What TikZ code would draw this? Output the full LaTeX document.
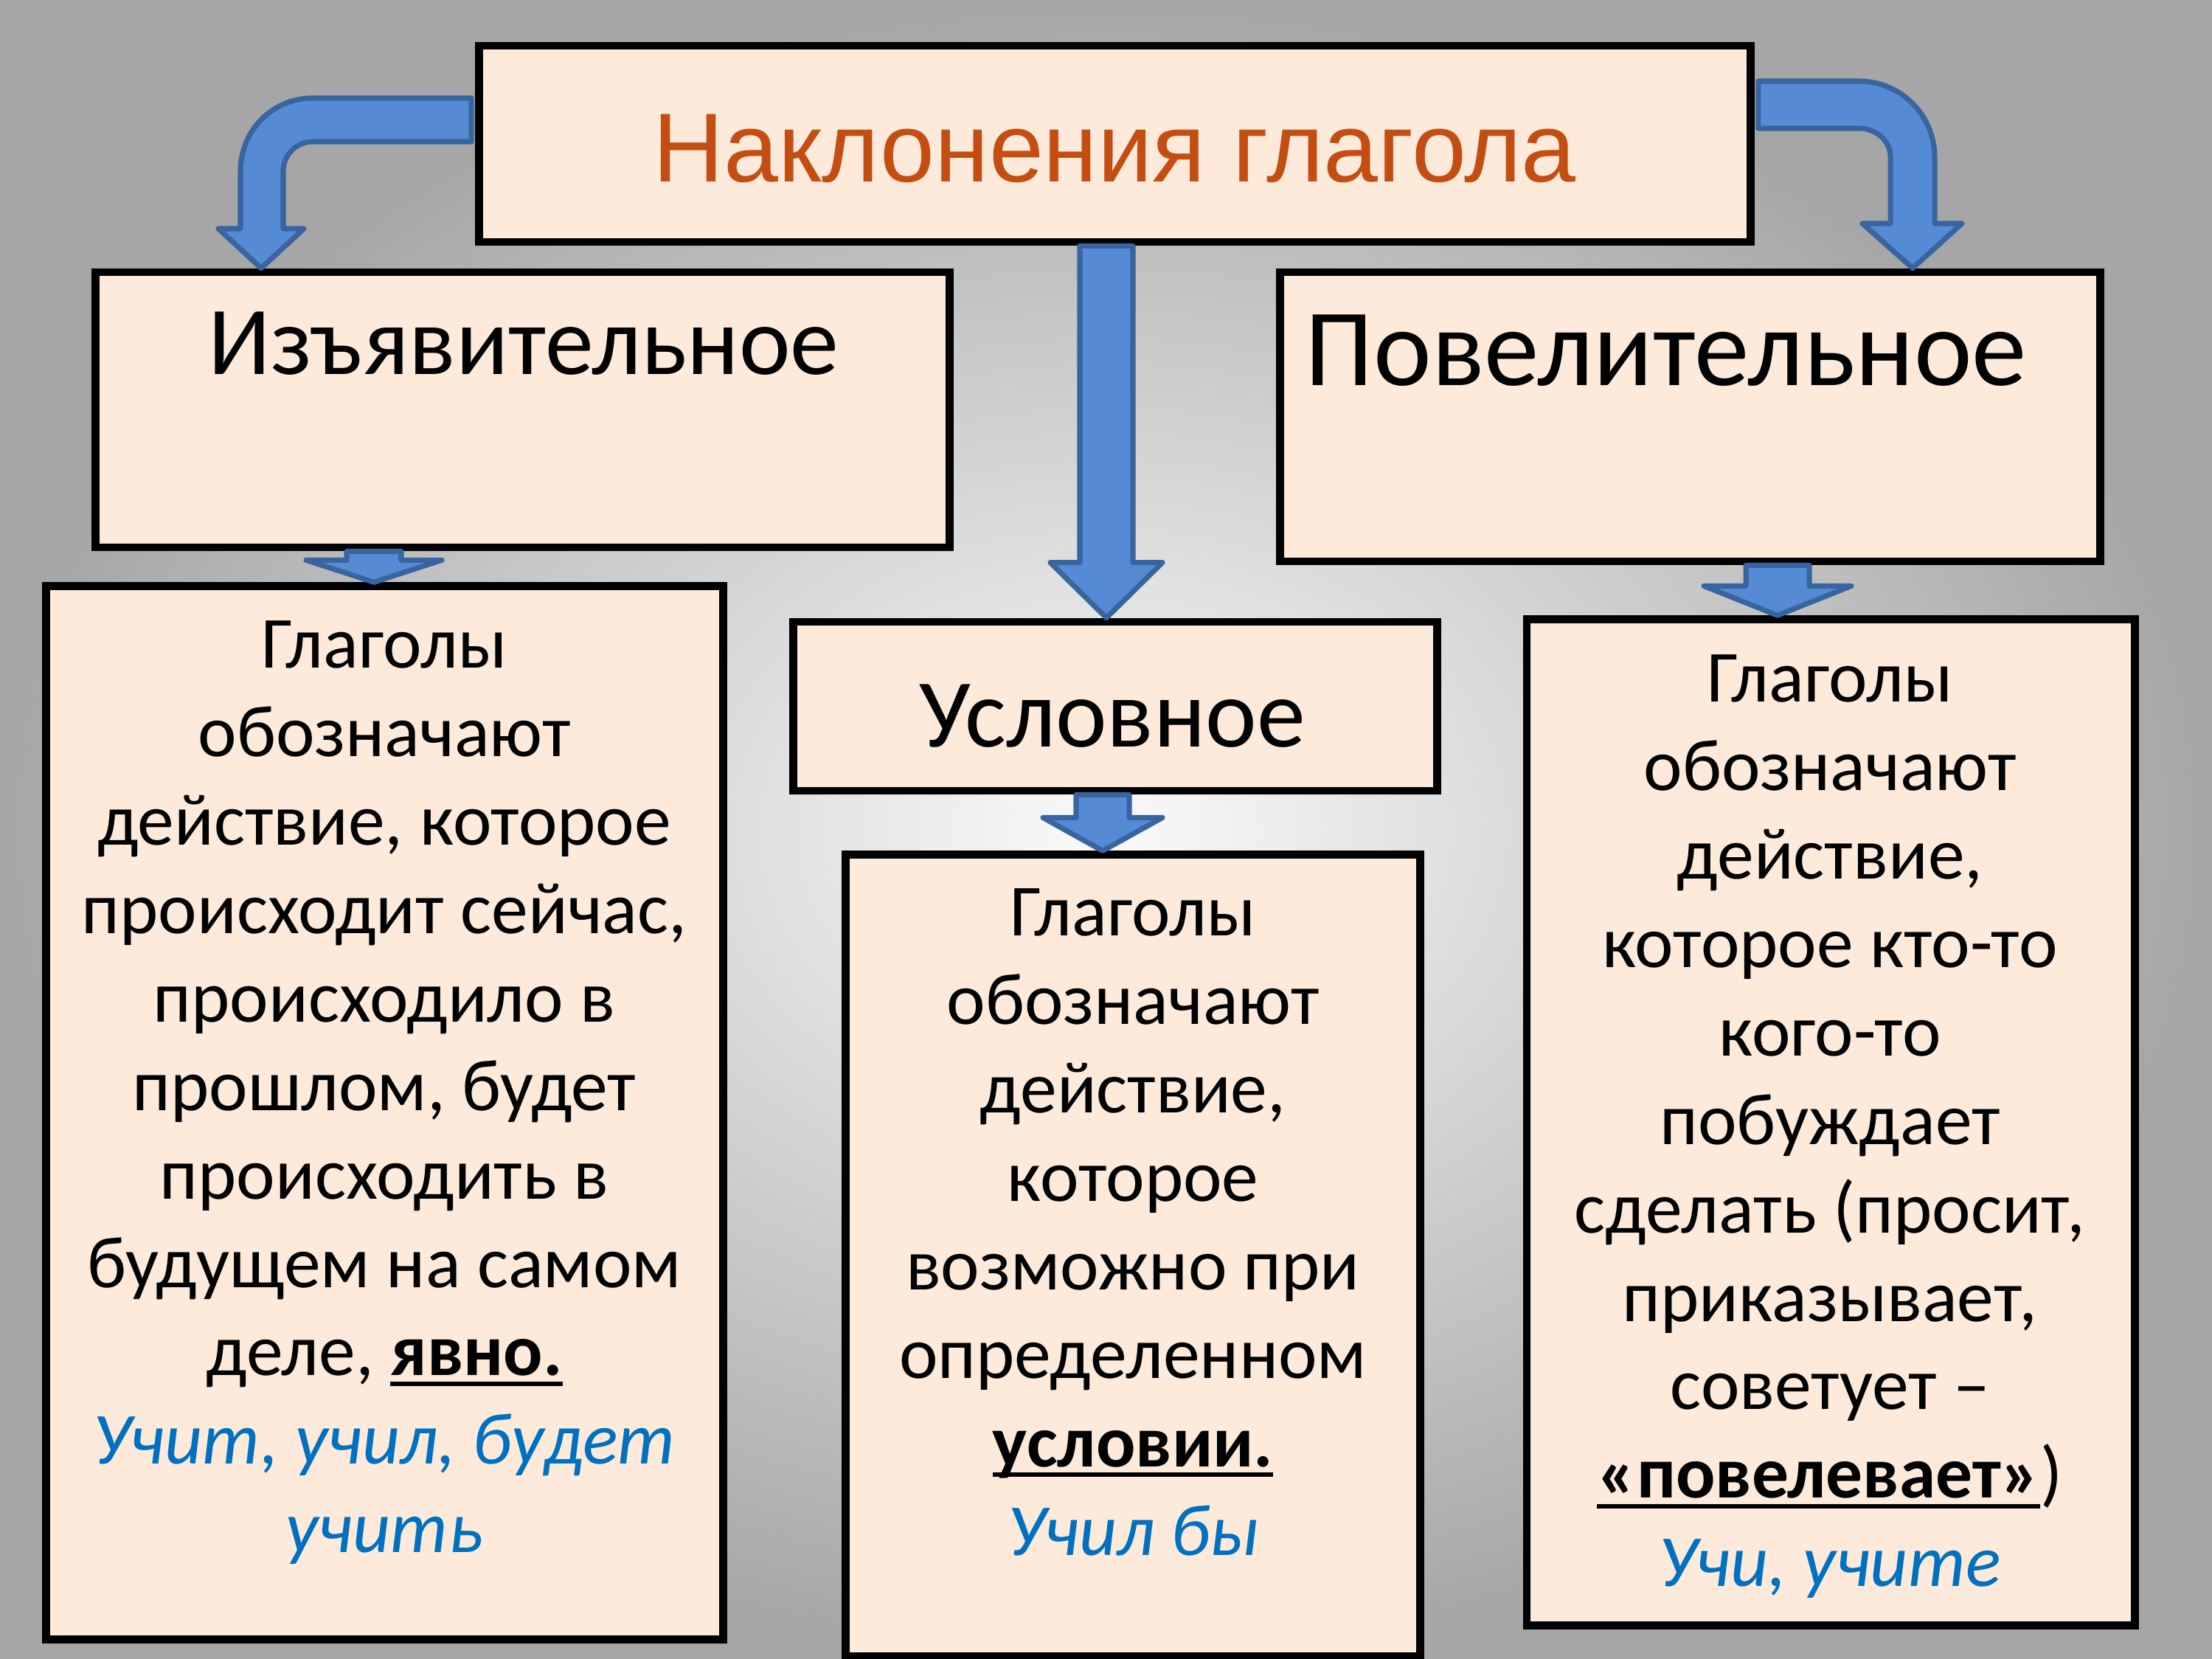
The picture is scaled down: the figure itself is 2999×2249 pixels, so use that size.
\documentclass[tikz,border=0pt]{standalone}
\usepackage{fontspec}
\setmainfont{Carlito}
\newfontfamily\titlefont{Liberation Sans}
\usetikzlibrary{calc}

\definecolor{boxfill}{RGB}{253,234,218}
\definecolor{arrowfill}{RGB}{84,139,212}
\definecolor{arrowedge}{RGB}{56,100,160}
\definecolor{exblue}{RGB}{0,112,192}
\definecolor{titlefill}{RGB}{196,78,18}

\tikzset{
  box/.style={draw=black, line width=3pt, fill=boxfill, inner sep=0pt},
  head/.style={inner sep=0pt, anchor=base, font=\fontsize{37.5}{40}\selectfont},
  bodytext/.style={inner sep=0pt, anchor=north, align=center, font=\fontsize{28.3}{34.1}\selectfont},
  blockarrow/.style={draw=arrowedge, fill=arrowfill, line width=2pt, line join=round}
}

\newsavebox\ulbox
\newcommand{\boldul}[1]{\sbox\ulbox{\bfseries #1}\rlap{\rule[-4pt]{\wd\ulbox}{1.7pt}}\usebox\ulbox}
\newcommand{\example}[1]{{\color{exblue}\itshape #1}}
\newcommand{\blockdown}[6]{%
  \draw[blockarrow] ($(#1,0 |- #2)+(-#4,0)$) -- ($(#1,0 |- #3)+(-#4,-#6)$) -- ($(#1,0 |- #3)+(-#5,-#6)$)
    -- (#1,0 |- #3) -- ($(#1,0 |- #3)+(#5,-#6)$) -- ($(#1,0 |- #3)+(#4,-#6)$) -- ($(#1,0 |- #2)+(#4,0)$) -- cycle;}

\begin{document}
\begin{tikzpicture}[x=0.01cm, y=-0.01cm]
  \useasboundingbox (0,0) rectangle (2999,2249);
  \shade[inner color={rgb,255:red,250;green,250;blue,250}, outer color={rgb,255:red,166;green,166;blue,166}] (0,0) rectangle (2999,2249);

  \node[box, minimum width=17.23cm, minimum height=2.66cm] (title) at (1511.5,195) {};
  \node[box, minimum width=11.57cm, minimum height=3.73cm] (ind) at (708.5,555.5) {};
  \node[box, minimum width=11.11cm, minimum height=3.92cm] (imp) at (2291.5,565) {};
  \node[box, minimum width=8.72cm, minimum height=2.29cm] (cond) at (1512,957.5) {};
  \node[box, minimum width=9.17cm, minimum height=14.27cm] (inddef) at (521.5,1508.5) {};
  \node[box, minimum width=7.79cm, minimum height=10.86cm] (conddef) at (1536,1702) {};
  \node[box, minimum width=8.24cm, minimum height=13.63cm] (impdef) at (2482,1521.5) {};

  \node[inner sep=0pt, anchor=base, text=titlefill, font=\titlefont\fontsize{37.8}{40}\selectfont] (titletext) at (1511,247)
    {Наклонения глагола};
  \node[head] (indhead) at (710,508) {Изъявительное};
  \node[head, anchor=base west, font=\fontsize{42.4}{44}\selectfont] (imphead) at (1769,523) {Повелительное};
  \node[head] (condhead) at (1508,1012) {Условное};

  \node[bodytext] (indtext) at (521,821) {\strut Глаголы\\ обозначают\\ действие, которое\\ происходит сейчас,\\
    происходило в\\ прошлом, будет\\ происходить в\\ будущем на самом\\ деле, \boldul{явно.}\\
    \example{Учит, учил, будет}\\ \example{учить}};
  \node[bodytext] (condtext) at (1536,1184) {\strut Глаголы\\ обозначают\\ действие,\\ которое\\ возможно при\\
    определенном\\ \boldul{условии.}\\ \example{Учил бы}};
  \node[bodytext] (imptext) at (2481,867) {\strut Глаголы\\ обозначают\\ действие,\\ которое кто-то\\ кого-то\\
    побуждает\\ сделать (просит,\\ приказывает,\\ советует –\\ \boldul{«повелевает»})\\ \example{Учи, учите}};

  \draw[blockarrow] ($(title.west |- 0,133)+(-5,0)$) -- (424,133) .. controls (369,133) and (326,177) .. (326,232)
    -- (326,310) -- (296,310) -- (354,0 |- ind.north) -- (412,310) -- (384,310) -- (384,232)
    .. controls (384,210) and (402,192) .. (424,192) -- ($(title.west |- 0,192)+(-5,0)$) -- cycle;
  \draw[blockarrow] ($(title.east |- 0,110)+(5,0)$) -- (2520,110) .. controls (2577,110) and (2623,156) .. (2623,213)
    -- (2623,303) -- (2660,303) -- (2593,0 |- imp.north) -- (2525,303) -- (2563,303) -- (2563,213)
    .. controls (2563,190) and (2543,174) .. (2520,174) -- ($(title.east |- 0,174)+(5,0)$) -- cycle;
  \blockdown{1500}{title.south}{cond.north}{36}{76}{75}
  \blockdown{507}{ind.south}{inddef.north}{37}{92}{30}
  \blockdown{1495}{cond.south}{conddef.north}{36}{81}{45}
  \blockdown{2410}{imp.south}{impdef.north}{43}{100}{40}
\end{tikzpicture}
\end{document}
